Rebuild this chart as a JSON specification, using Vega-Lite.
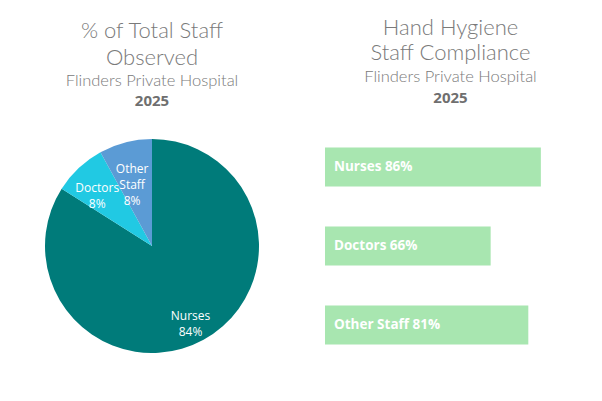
{
  "$schema": "https://vega.github.io/schema/vega-lite/v6.json",
  "background": "white",
  "padding": {"left": 45, "top": 16, "right": 0, "bottom": 0},
  "spacing": 66,
  "config": {"view": {"stroke": null}},
  "hconcat": [
    {
      "title": {
        "text": ["% of Total Staff", "Observed"],
        "subtitle": "Flinders Private Hospital",
        "anchor": "middle",
        "font": "Lato",
        "fontWeight": 300,
        "fontSize": 22,
        "lineHeight": 27,
        "color": "#7a7a7a",
        "subtitleFont": "Lato",
        "subtitleFontWeight": 300,
        "subtitleFontSize": 16.5,
        "subtitleColor": "#7a7a7a",
        "subtitlePadding": 3,
        "offset": 4
      },
      "vconcat": [
        {
          "title": {"text": "2025", "anchor": "middle", "font": "Open Sans", "fontWeight": "bold", "fontSize": 15, "color": "#6f6f6f", "offset": 30},
          "width": 214,
          "height": 214,
          "data": {
            "values": [
              {"cat": "Nurses", "label": "Nurses", "pct": 84, "ord": 1},
              {"cat": "Doctors", "label": "Doctors", "pct": 8, "ord": 2},
              {"cat": "Other Staff", "label": "Other\nStaff", "pct": 8, "ord": 3}
            ]
          },
          "transform": [{"calculate": "datum.label + '\\n' + datum.pct + '%'", "as": "txt"}],
          "encoding": {
            "theta": {"field": "pct", "type": "quantitative", "stack": true},
            "order": {"field": "ord", "type": "quantitative"}
          },
          "layer": [
            {
              "mark": {"type": "arc", "outerRadius": 107},
              "encoding": {
                "color": {
                  "field": "cat",
                  "type": "nominal",
                  "scale": {"domain": ["Nurses", "Doctors", "Other Staff"], "range": ["#007b7a", "#21c9e3", "#5b9bd5"]},
                  "legend": null
                }
              }
            },
            {
              "mark": {"type": "text", "fill": "white", "font": "Open Sans", "fontSize": 12, "lineBreak": "\n", "lineHeight": 16},
              "encoding": {
                "text": {"field": "txt"},
                "radius": {"condition": {"test": "datum.cat == 'Nurses'", "value": 66}, "value": 80}
              }
            }
          ]
        }
      ]
    },
    {
      "title": {
        "text": ["Hand Hygiene", "Staff Compliance"],
        "subtitle": "Flinders Private Hospital",
        "anchor": "middle",
        "font": "Lato",
        "fontWeight": 300,
        "fontSize": 22,
        "lineHeight": 25,
        "color": "#7a7a7a",
        "subtitleFont": "Lato",
        "subtitleFontWeight": 300,
        "subtitleFontSize": 16.5,
        "subtitleColor": "#7a7a7a",
        "subtitlePadding": 4,
        "offset": 5
      },
      "vconcat": [
        {
          "title": {"text": "2025", "anchor": "middle", "font": "Open Sans", "fontWeight": "bold", "fontSize": 15, "color": "#6f6f6f", "offset": 33},
          "width": 251,
          "height": 214,
          "data": {
            "values": [
              {"cat": "Nurses", "pct": 86},
              {"cat": "Doctors", "pct": 66},
              {"cat": "Other Staff", "pct": 81}
            ]
          },
          "transform": [{"calculate": "datum.cat + ' ' + datum.pct + '%'", "as": "txt"}],
          "encoding": {
            "y": {"field": "cat", "type": "nominal", "sort": ["Nurses", "Doctors", "Other Staff"], "scale": {"paddingInner": 0.506, "paddingOuter": 0.1075}, "axis": null}
          },
          "layer": [
            {
              "mark": {"type": "bar", "color": "#a8e6b0"},
              "encoding": {
                "x": {"field": "pct", "type": "quantitative", "scale": {"domain": [0, 100]}, "axis": null}
              }
            },
            {
              "mark": {"type": "text", "align": "left", "dx": 9, "fill": "white", "font": "Open Sans", "fontWeight": "bold", "fontSize": 13.5},
              "encoding": {
                "x": {"datum": 0},
                "text": {"field": "txt"}
              }
            }
          ]
        }
      ]
    }
  ]
}
